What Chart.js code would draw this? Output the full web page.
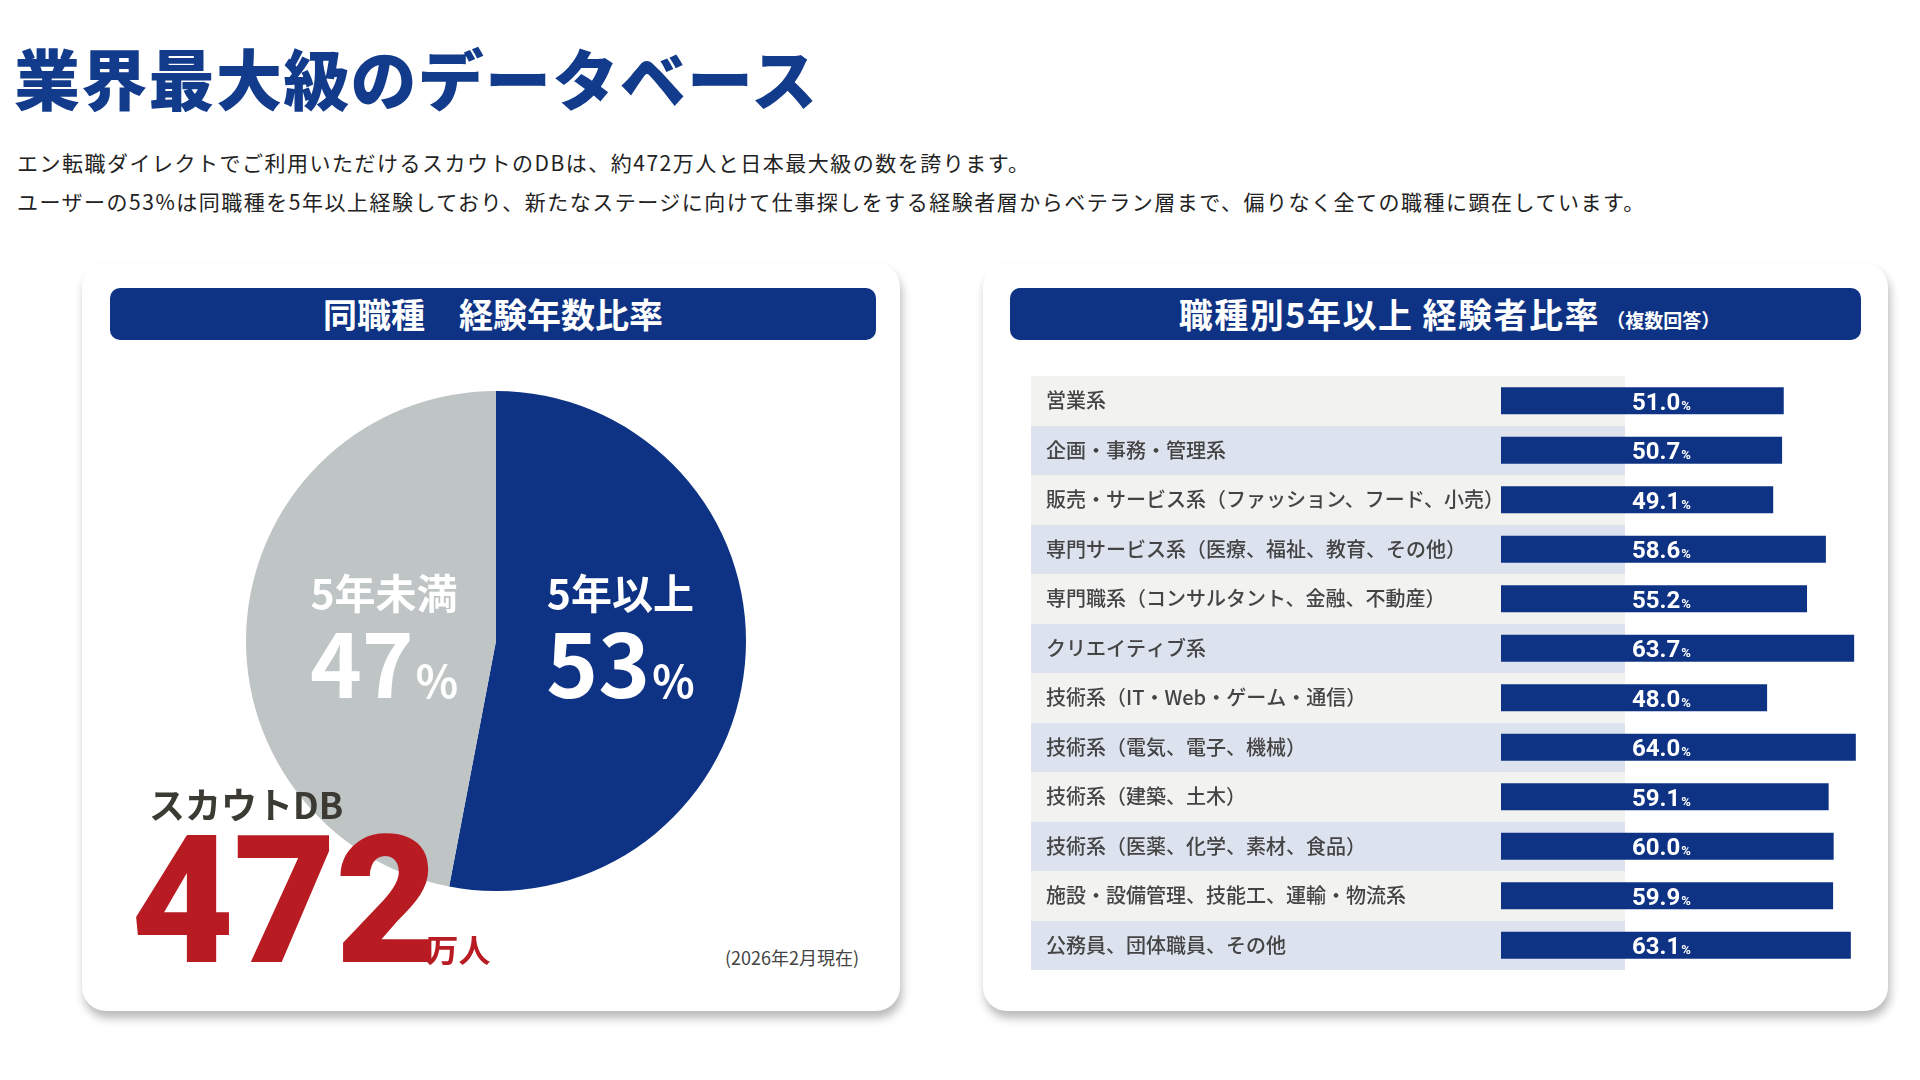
<!DOCTYPE html>
<html lang="ja">
<head>
<meta charset="utf-8">
<script src="https://cdn.jsdelivr.net/npm/chart.js@4.4.1/dist/chart.umd.min.js"></script>
<style>
html,body{margin:0;padding:0;background:#fff;}
body{width:1920px;height:1080px;position:relative;overflow:hidden;font-family:"Noto Sans CJK JP","Noto Sans",sans-serif;}
.abs{position:absolute;}
#title{left:14px;top:43px;font-size:66px;line-height:1;font-weight:900;color:#123b8c;letter-spacing:1.3px;white-space:nowrap;}
.lead{left:17px;font-size:21px;line-height:1;color:#222;letter-spacing:1.5px;white-space:nowrap;}
.card{background:#fff;border-radius:24px;box-shadow:2px 7px 10px rgba(0,0,0,0.28);}
.hdr{background:#0e3384;border-radius:10px;color:#fff;font-weight:700;display:flex;align-items:center;justify-content:center;white-space:nowrap;line-height:1;box-sizing:border-box;}
</style>
</head>
<body>
<div id="title" class="abs">業界最大級のデータベース</div>
<div class="abs lead" style="top:152px;">エン転職ダイレクトでご利用いただけるスカウトのDBは、約472万人と日本最大級の数を誇ります。</div>
<div class="abs lead" style="top:191px;">ユーザーの53%は同職種を5年以上経験しており、新たなステージに向けて仕事探しをする経験者層からベテラン層まで、偏りなく全ての職種に顕在しています。</div>

<div class="abs card" style="left:82px;top:263px;width:818px;height:748px;"></div>
<div class="abs card" style="left:983px;top:263px;width:905px;height:748px;"></div>

<div class="abs hdr" style="left:110px;top:288px;width:766px;height:52px;font-size:34px;">同職種　経験年数比率</div>
<div class="abs hdr" style="left:1010px;top:288px;width:851px;height:52px;padding-left:28px;">
  <div style="display:flex;align-items:baseline;">
    <span style="font-size:34px;letter-spacing:1.5px;">職種別5年以上 経験者比率</span><span style="font-size:19px;margin-left:6px;">（複数回答）</span>
  </div>
</div>

<canvas id="pie" class="abs" width="500" height="500" style="left:246px;top:391px;width:500px;height:500px;"></canvas>
<canvas id="bar" class="abs" width="847" height="594" style="left:1031px;top:376px;width:847px;height:594px;"></canvas>

<div class="abs" style="left:149px;top:785px;font-size:36px;line-height:1;font-weight:700;color:#3b3a33;white-space:nowrap;">スカウトDB</div>
<div class="abs" style="left:131px;top:812px;display:flex;align-items:baseline;color:#b81c22;white-space:nowrap;">
  <span style="font-family:Roboto,'Noto Sans',sans-serif;font-weight:900;font-size:178px;line-height:1;letter-spacing:-1px;">472</span><span style="font-size:32px;font-weight:700;line-height:1;margin-left:-11px;">万人</span>
</div>
<div class="abs" style="left:725px;top:948px;font-size:18px;line-height:1;color:#444;white-space:nowrap;">(2026年2月現在)</div>

<script>
// ---- data ----
const pieLabels = ['5年以上', '5年未満'];
const pieValues = [53, 47];
const pieColors = ['#0e3384', '#bfc4c5'];

const jobCategories = [
  '営業系',
  '企画・事務・管理系',
  '販売・サービス系（ファッション、フード、小売）',
  '専門サービス系（医療、福祉、教育、その他）',
  '専門職系（コンサルタント、金融、不動産）',
  'クリエイティブ系',
  '技術系（IT・Web・ゲーム・通信）',
  '技術系（電気、電子、機械）',
  '技術系（建築、土木）',
  '技術系（医薬、化学、素材、食品）',
  '施設・設備管理、技能工、運輸・物流系',
  '公務員、団体職員、その他'
];
const jobValues = [51.0, 50.7, 49.1, 58.6, 55.2, 63.7, 48.0, 64.0, 59.1, 60.0, 59.9, 63.1];

const NAVY = '#0e3384';
const JP = '"Noto Sans CJK JP", "Noto Sans", sans-serif';

// ---- pie ----
const pieLabelPlugin = {
  id: 'pieLabels',
  afterDatasetsDraw(chart) {
    const ctx = chart.ctx;
    const meta = chart.getDatasetMeta(0);
    const radial = [0.5, 0.45];
    meta.data.forEach((arc, i) => {
      const p = arc.getProps(['x', 'y', 'startAngle', 'endAngle', 'outerRadius'], true);
      const mid = (p.startAngle + p.endAngle) / 2;
      const cx = p.x + Math.cos(mid) * p.outerRadius * radial[i];
      const cy = p.y;
      ctx.save();
      ctx.fillStyle = '#ffffff';
      ctx.textAlign = 'center';
      ctx.textBaseline = 'middle';
      ctx.font = '700 41px ' + JP;
      ctx.fillText(pieLabels[i], cx, cy - 48);
      const num = String(pieValues[i]);
      ctx.font = '700 88px ' + JP;
      const wNum = ctx.measureText(num).width;
      ctx.font = '700 44px ' + JP;
      const wPct = ctx.measureText('%').width;
      const gap = 2;
      const x0 = cx - (wNum + gap + wPct) / 2;
      ctx.textAlign = 'left';
      ctx.textBaseline = 'alphabetic';
      ctx.font = '700 88px ' + JP;
      ctx.fillText(num, x0, cy + 57);
      ctx.font = '700 44px ' + JP;
      ctx.fillText('%', x0 + wNum + gap, cy + 57);
      ctx.restore();
    });
  }
};

new Chart(document.getElementById('pie'), {
  type: 'pie',
  data: {
    labels: pieLabels,
    datasets: [{ data: pieValues, backgroundColor: pieColors, borderWidth: 0 }]
  },
  options: {
    responsive: false,
    animation: false,
    devicePixelRatio: 1,
    layout: { padding: 0 },
    plugins: { legend: { display: false }, tooltip: { enabled: false } }
  },
  plugins: [pieLabelPlugin]
});

// ---- bars ----
const rowBgPlugin = {
  id: 'rowBg',
  beforeDraw(chart) {
    const { ctx, chartArea } = chart;
    const y = chart.scales.y;
    const colors = ['#f2f2f1', '#dce2ee'];
    const step = y.getPixelForValue(1) - y.getPixelForValue(0);
    ctx.save();
    jobCategories.forEach((c, i) => {
      const yc = y.getPixelForValue(i);
      const top = Math.round(yc - step / 2);
      const bot = Math.round(yc + step / 2);
      ctx.fillStyle = colors[i % 2];
      ctx.fillRect(0, top, chartArea.left + 124, bot - top);
    });
    ctx.restore();
  }
};

const barLabelPlugin = {
  id: 'barLabels',
  afterDatasetsDraw(chart) {
    const { ctx, chartArea } = chart;
    const meta = chart.getDatasetMeta(0);
    const x0 = chartArea.left + 131;
    ctx.save();
    ctx.fillStyle = '#ffffff';
    ctx.textAlign = 'left';
    ctx.textBaseline = 'alphabetic';
    meta.data.forEach((bar, i) => {
      const num = jobValues[i].toFixed(1);
      ctx.font = '700 24px Roboto, "Noto Sans", sans-serif';
      const w = ctx.measureText(num).width;
      ctx.fillText(num, x0, bar.y + 9);
      ctx.font = '700 13px Roboto, "Noto Sans", sans-serif';
      ctx.fillText('%', x0 + w + 1, bar.y + 9);
    });
    ctx.restore();
  }
};

new Chart(document.getElementById('bar'), {
  type: 'bar',
  data: {
    labels: jobCategories,
    datasets: [{
      data: jobValues,
      backgroundColor: NAVY,
      borderWidth: 0,
      categoryPercentage: 1,
      barPercentage: 0.55
    }]
  },
  options: {
    indexAxis: 'y',
    responsive: false,
    animation: false,
    devicePixelRatio: 1,
    layout: { autoPadding: false, padding: { left: 15, right: 0, top: 0, bottom: 0 } },
    plugins: { legend: { display: false }, tooltip: { enabled: false } },
    scales: {
      x: { display: false, min: 0, max: 68 },
      y: {
        grid: { display: false },
        border: { display: false },
        afterFit(scale) { scale.width = 455; scale.paddingTop = 0; scale.paddingBottom = 0; },
        ticks: {
          crossAlign: 'far',
          padding: 0,
          color: '#444444',
          font: { family: JP, size: 20, weight: '500' },
          autoSkip: false
        }
      }
    }
  },
  plugins: [rowBgPlugin, barLabelPlugin]
});
</script>
</body>
</html>
